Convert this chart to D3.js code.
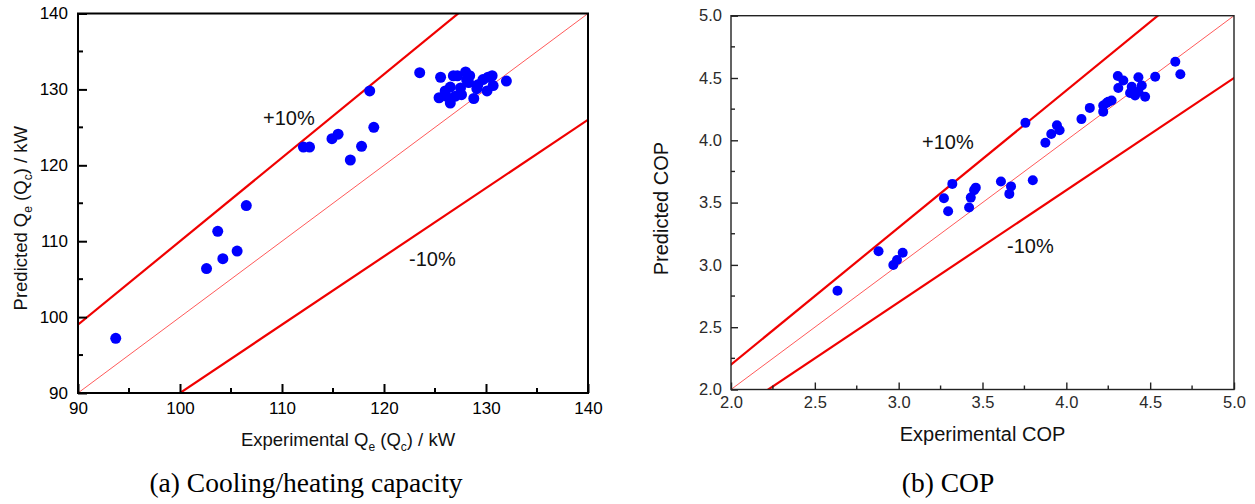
<!DOCTYPE html>
<html>
<head>
<meta charset="utf-8">
<script src="https://cdn.jsdelivr.net/npm/d3@7"></script>
<style>
  body { margin: 0; background: #fff; }
  svg text { font-family: "Liberation Sans", Arial, sans-serif; }
  .caption { font-family: "Liberation Serif", "Times New Roman", serif; }
</style>
</head>
<body>
<div id="chart"></div>
<script>
// (a) cooling/heating capacity, kW
let capExp  = [93.7, 102.6, 104.2, 105.6, 103.7, 106.5, 112.1, 112.7, 114.9, 115.5, 116.7, 117.8, 119.0, 118.6,
               123.5, 125.55, 125.4, 126.5, 126.8, 127.2, 128.0, 128.4, 128.3, 129.2, 129.1, 130.2, 130.6, 130.7,
               130.1, 132.0, 128.8, 126.5, 126.0, 127.5, 127.6, 127.0, 126.1, 128.1, 129.7];
let capPred = [97.2, 106.4, 107.7, 108.7, 111.3, 114.7, 122.4, 122.4, 123.5, 124.1, 120.7, 122.5, 125.0, 129.8,
               132.2, 131.6, 128.9, 128.2, 131.8, 131.8, 132.3, 131.8, 130.9, 130.6, 130.1, 131.6, 131.8, 130.5,
               129.8, 131.1, 128.8, 130.3, 129.8, 130.2, 129.3, 129.1, 129.1, 131.3, 131.3];

// (b) COP
let copExp  = [2.635, 2.88, 2.968, 2.99, 3.024, 3.27, 3.295, 3.32, 3.42, 3.43, 3.45, 3.46, 3.61, 3.66, 3.67, 3.80,
               3.756, 3.875, 3.91, 3.944, 3.96, 4.09, 4.14, 4.22, 4.22, 4.25, 4.27, 4.307, 4.34, 4.43, 4.53, 4.65,
               4.68, 4.31, 4.39, 4.38, 4.41, 4.45, 4.47, 4.43, 4.24];
let copPred = [2.793, 3.11, 2.999, 3.04, 3.098, 3.535, 3.43, 3.65, 3.46, 3.54, 3.60, 3.62, 3.67, 3.57, 3.63, 3.68,
               4.14, 3.98, 4.05, 4.12, 4.08, 4.17, 4.26, 4.23, 4.28, 4.31, 4.32, 4.516, 4.48, 4.506, 4.51, 4.63,
               4.53, 4.42, 4.43, 4.38, 4.36, 4.44, 4.35, 4.39, 4.30];

let capTicks = [90, 100, 110, 120, 130, 140];
let capMinor = [95, 105, 115, 125, 135];
let copTicks = [2.0, 2.5, 3.0, 3.5, 4.0, 4.5, 5.0];
let copMinor = [2.25, 2.75, 3.25, 3.75, 4.25, 4.75];
let bands = [1.1, 1.0, 0.9];   // +10 %, parity, -10 %

let svg = d3.select("#chart").append("svg")
    .attr("width", 1255)
    .attr("height", 504);

function panel(opt) {
  let x = d3.scaleLinear().domain(opt.domain).range([opt.left, opt.right]);
  let y = d3.scaleLinear().domain(opt.domain).range([opt.bottom, opt.top]);
  let g = svg.append("g");

  g.append("clipPath").attr("id", opt.id + "-clip")
    .append("rect")
      .attr("x", opt.left).attr("y", opt.top)
      .attr("width", opt.right - opt.left).attr("height", opt.bottom - opt.top);

  // parity and +-10% lines
  let lo = opt.domain[0], hi = opt.domain[1];
  bands.forEach(function(k) {
    let line = d3.line().x(d => x(d)).y(d => y(d * k));
    g.append("path")
      .datum([lo * 0.8, hi * 1.2])
      .attr("clip-path", "url(#" + opt.id + "-clip)")
      .attr("fill", "none")
      .attr("stroke", k === 1 ? "#ff5a5a" : "#f00000")
      .attr("stroke-width", k === 1 ? 1 : 2.2)
      .attr("d", line);
  });

  // points
  g.selectAll(".pt")
    .data(opt.xs)
    .enter().append("circle")
      .attr("cx", d => x(d))
      .attr("cy", (d, i) => y(opt.ys[i]))
      .attr("r", opt.r)
      .attr("fill", "#0000ff");

  // axes with inward ticks
  let xAxis = d3.axisBottom(x).tickValues(opt.ticks).tickFormat(opt.fmt)
      .tickSizeInner(-opt.major).tickSizeOuter(0).tickPadding(opt.padX);
  let yAxis = d3.axisLeft(y).tickValues(opt.ticks).tickFormat(opt.fmt)
      .tickSizeInner(-opt.major).tickSizeOuter(0).tickPadding(opt.padY);

  let gx = g.append("g").attr("transform", "translate(0," + opt.bottom + ")").call(xAxis);
  let gy = g.append("g").attr("transform", "translate(" + opt.left + ",0)").call(yAxis);
  [gx, gy].forEach(function(a) {
    a.select(".domain").remove();
    a.selectAll("line").attr("stroke", opt.axisColor).attr("stroke-width", opt.axisWidth);
    a.selectAll("text").attr("font-size", opt.tickFont).attr("fill", opt.textColor);
  });
  opt.minor.forEach(function(m) {
    g.append("line").attr("x1", x(m)).attr("x2", x(m))
      .attr("y1", opt.bottom).attr("y2", opt.bottom - opt.minorLen)
      .attr("stroke", opt.axisColor).attr("stroke-width", opt.axisWidth);
    g.append("line").attr("y1", y(m)).attr("y2", y(m))
      .attr("x1", opt.left).attr("x2", opt.left + opt.minorLen)
      .attr("stroke", opt.axisColor).attr("stroke-width", opt.axisWidth);
  });

  g.append("rect")
    .attr("x", opt.left).attr("y", opt.top)
    .attr("width", opt.right - opt.left).attr("height", opt.bottom - opt.top)
    .attr("fill", "none")
    .attr("stroke", opt.axisColor)
    .attr("stroke-width", opt.axisWidth);

  // band labels
  opt.notes.forEach(function(n) {
    g.append("text").attr("x", n[0]).attr("y", n[1])
      .attr("font-size", 20).attr("fill", "#111").text(n[2]);
  });

  // axis titles
  let cx = (opt.left + opt.right) / 2, cy = (opt.top + opt.bottom) / 2;
  let xt = g.append("text").attr("x", cx + opt.xTitleShift).attr("y", opt.xTitleY)
    .attr("text-anchor", "middle").attr("font-size", opt.titleFont).attr("fill", "#111");
  let yt = g.append("text")
    .attr("transform", "translate(" + opt.yTitleX + "," + (cy + opt.yTitleShift) + ") rotate(-90)")
    .attr("text-anchor", "middle").attr("font-size", opt.titleFont).attr("fill", "#111");
  [[xt, opt.xTitle], [yt, opt.yTitle]].forEach(function(p) {
    p[1].forEach(function(part) {
      if (part.sub) {
        p[0].append("tspan").attr("font-size", 12).attr("dy", 5).text(part.sub);
        p[0].append("tspan").attr("dy", -5).text(part.t || "\u200b");
      } else {
        p[0].append("tspan").text(part.t);
      }
    });
  });

  svg.append("text").attr("class", "caption")
    .attr("x", opt.capX).attr("y", 492)
    .attr("text-anchor", "middle").attr("font-size", 27.5).attr("fill", "#000")
    .text(opt.caption);
}

panel({
  id: "cap", domain: [90, 140], left: 78, right: 588, top: 13.5, bottom: 393,
  xs: capExp, ys: capPred, r: 5.5,
  ticks: capTicks, minor: capMinor, fmt: d3.format("d"),
  major: 9, minorLen: 5, padX: 9, padY: 10, tickFont: 17,
  axisColor: "#000", axisWidth: 2, textColor: "#000",
  notes: [[263, 125, "+10%"], [409, 266, "-10%"]],
  titleFont: 18.5,
  xTitle: [{t: "Experimental Q"}, {sub: "e", t: " (Q"}, {sub: "c", t: ") / kW"}],
  yTitle: [{t: "Predicted Q"}, {sub: "e", t: " (Q"}, {sub: "c", t: ") / kW"}],
  xTitleY: 446, xTitleShift: 15, yTitleX: 27, yTitleShift: 15,
  capX: 306, caption: "(a) Cooling/heating capacity"
});

panel({
  id: "cop", domain: [2, 5], left: 731, right: 1234, top: 15.7, bottom: 389.5,
  xs: copExp, ys: copPred, r: 5,
  ticks: copTicks, minor: copMinor, fmt: d3.format(".1f"),
  major: 7, minorLen: 4, padX: 7, padY: 9, tickFont: 16.5,
  axisColor: "#222", axisWidth: 1.4, textColor: "#2a2a2a",
  notes: [[922, 149, "+10%"], [1007, 253, "-10%"]],
  titleFont: 20,
  xTitle: [{t: "Experimental COP"}],
  yTitle: [{t: "Predicted COP"}],
  xTitleY: 441, xTitleShift: 0, yTitleX: 668, yTitleShift: 6,
  capX: 948, caption: "(b) COP"
});
</script>
</body>
</html>
